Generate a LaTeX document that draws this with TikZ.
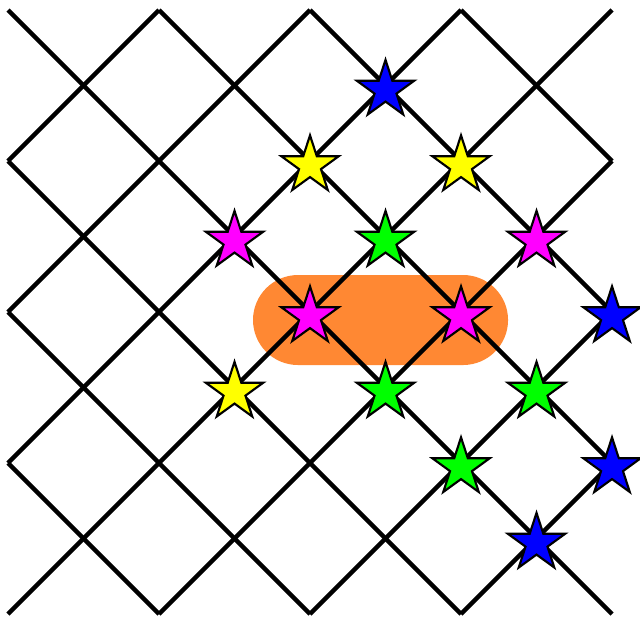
\documentclass[tikz,border=0pt]{standalone}
\usetikzlibrary{shapes.geometric}
\definecolor{capor}{RGB}{255,136,51}
\definecolor{stblue}{RGB}{0,0,255}
\definecolor{styellow}{RGB}{255,255,0}
\definecolor{stmagenta}{RGB}{255,0,255}
\definecolor{stgreen}{RGB}{0,255,0}
\begin{document}
\begin{tikzpicture}[x=1cm,y=1cm,
  gridline/.style={line width=0.85pt, line cap=butt},
  st/.style={star, star points=5, star point ratio=2.618, draw=black, line width=0.4pt, minimum size=0.4cm, inner sep=0pt, yshift=-0.03cm},
  capsule/.style={fill=capor, rounded corners=0.298cm, minimum width=1.689cm, minimum height=0.596cm, inner sep=0pt}]
\useasboundingbox (-0.053,-0.0132) rectangle (4.1854,4.0662);
\node[capsule] (cap) at (2.467,1.947) {};
\foreach \k in {1,...,4} \draw[gridline] (0,\k) -- (\k,0);
\foreach \k in {5,6,7} \draw[gridline] (\k-4,4) -- (4,\k-4);
\foreach \k in {0,...,3} \draw[gridline] (\k,0) -- (4,4-\k);
\foreach \k in {1,2,3} \draw[gridline] (0,\k) -- (4-\k,4);
% blue
\node[st, fill=stblue] (b1) at (2.5,3.5) {};
\node[st, fill=stblue] (b2) at (4,2) {};
\node[st, fill=stblue] (b3) at (4,1) {};
\node[st, fill=stblue] (b4) at (3.5,0.5) {};
% yellow
\node[st, fill=styellow] (y1) at (2,3) {};
\node[st, fill=styellow] (y2) at (3,3) {};
\node[st, fill=styellow] (y3) at (1.5,1.5) {};
% magenta
\node[st, fill=stmagenta] (m1) at (1.5,2.5) {};
\node[st, fill=stmagenta] (m2) at (3.5,2.5) {};
\node[st, fill=stmagenta] (m3) at (2,2) {};
\node[st, fill=stmagenta] (m4) at (3,2) {};
% green
\node[st, fill=stgreen] (g1) at (2.5,2.5) {};
\node[st, fill=stgreen] (g2) at (2.5,1.5) {};
\node[st, fill=stgreen] (g3) at (3.5,1.5) {};
\node[st, fill=stgreen] (g4) at (3,1) {};
\end{tikzpicture}
\end{document}
